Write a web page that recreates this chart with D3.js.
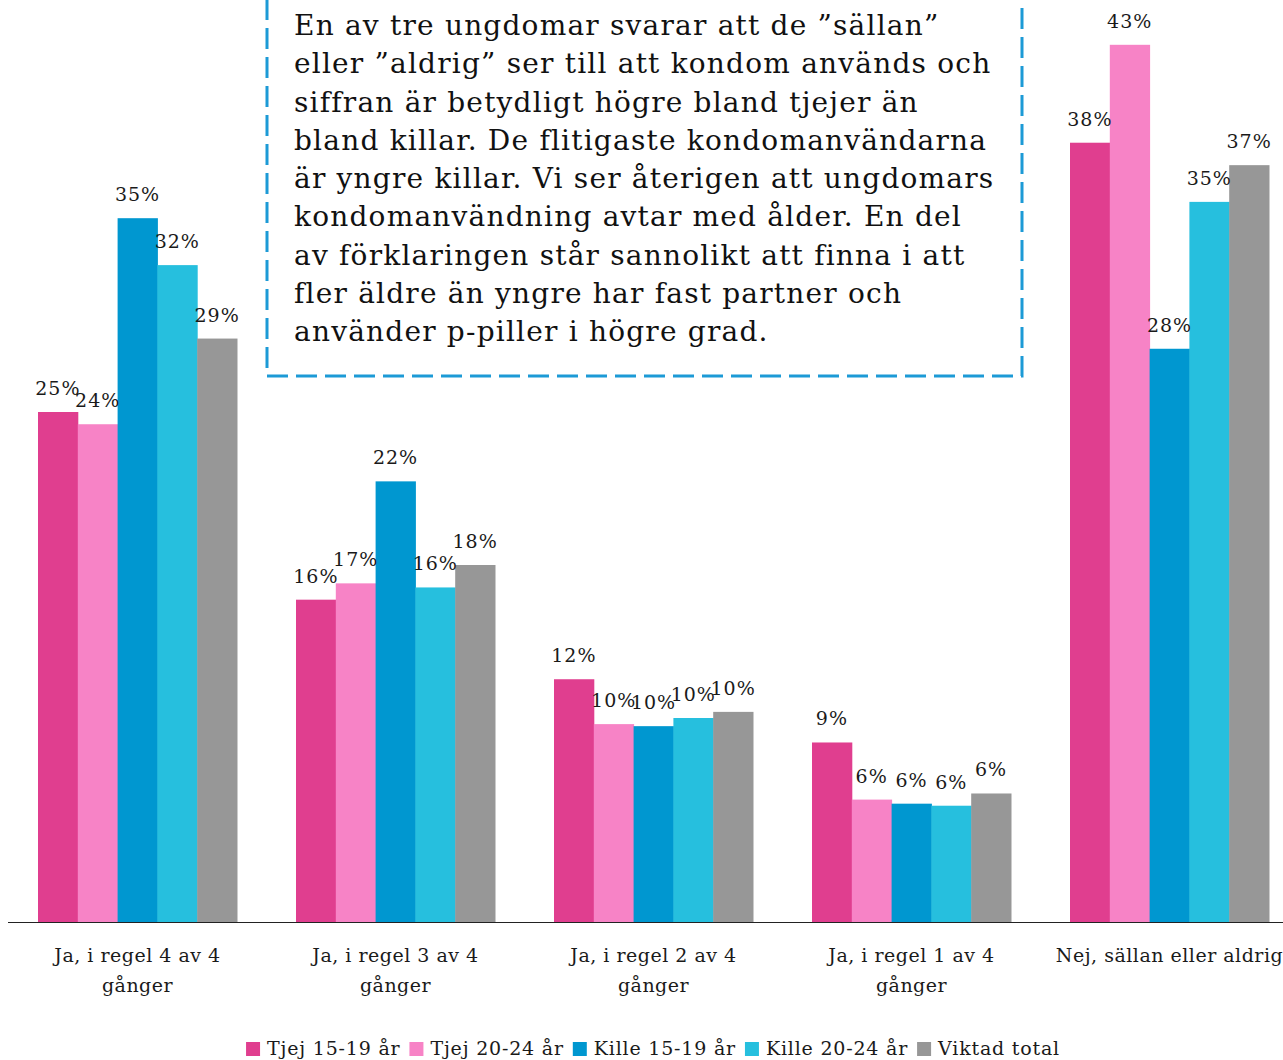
<!DOCTYPE html>
<html>
<head>
<meta charset="utf-8">
<script src="https://cdn.jsdelivr.net/npm/d3@7.9.0/dist/d3.min.js"></script>
<style>
  body { margin: 0; background: #fff; }
  svg { display: block; font-family: "DejaVu Serif", serif; }
</style>
</head>
<body>
<svg id="chart" width="1283" height="1060"></svg>
<script>
// categories + series (percent)
const categories = [
  "Ja, i regel 4 av 4 gånger",
  "Ja, i regel 3 av 4 gånger",
  "Ja, i regel 2 av 4 gånger",
  "Ja, i regel 1 av 4 gånger",
  "Nej, sällan eller aldrig"
];
const categoryLines = [
  ["Ja, i regel 4 av 4", "gånger"],
  ["Ja, i regel 3 av 4", "gånger"],
  ["Ja, i regel 2 av 4", "gånger"],
  ["Ja, i regel 1 av 4", "gånger"],
  ["Nej, sällan eller aldrig"]
];
const seriesNames = ["Tjej 15-19 år", "Tjej 20-24 år", "Kille 15-19 år", "Kille 20-24 år", "Viktad total"];
const seriesColors = ["#e03e8f", "#f783c6", "#0097d0", "#26bfde", "#979797"];
const tjej1519 = [25.0, 15.8, 11.9, 8.8, 38.2];
const tjej2024 = [24.4, 16.6, 9.7, 6.0, 43.0];
const kille1519 = [34.5, 21.6, 9.6, 5.8, 28.1];
const kille2024 = [32.2, 16.4, 10.0, 5.7, 35.3];
const viktad = [28.6, 17.5, 10.3, 6.3, 37.1];
const seriesValues = [tjej1519, tjej2024, kille1519, kille2024, viktad];

const noteLines = [
  "En av tre ungdomar svarar att de ”sällan”",
  "eller ”aldrig” ser till att kondom används och",
  "siffran är betydligt högre bland tjejer än",
  "bland killar. De flitigaste kondomanvändarna",
  "är yngre killar. Vi ser återigen att ungdomars",
  "kondomanvändning avtar med ålder. En del",
  "av förklaringen står sannolikt att finna i att",
  "fler äldre än yngre har fast partner och",
  "använder p-piller i högre grad."
];

const svg = d3.select("#chart");

const y = d3.scaleLinear().domain([0, 45]).range([922, 4]);
const x0 = d3.scaleBand().domain(categories).range([8.5, 1298.5]).padding(0);
const x1 = d3.scaleBand().domain(seriesNames).range([29.5, 228.5]).padding(0);

// bars
const groups = svg.selectAll("g.grp")
  .data(categories)
  .join("g")
  .attr("class", "grp")
  .attr("transform", d => `translate(${x0(d)},0)`);

groups.each(function(cat, ci) {
  const g = d3.select(this);
  const rows = seriesNames.map((s, si) => ({ s, si, v: seriesValues[si][ci] }));
  g.selectAll("rect")
    .data(rows)
    .join("rect")
    .attr("x", d => x1(d.s))
    .attr("y", d => y(d.v))
    .attr("width", x1.bandwidth() + 0.5)
    .attr("height", d => y(0) - y(d.v))
    .attr("fill", d => seriesColors[d.si]);
  g.selectAll("text.val")
    .data(rows)
    .join("text")
    .attr("class", "val")
    .attr("x", d => x1(d.s) + x1.bandwidth() / 2)
    .attr("y", d => y(d.v) - 17)
    .attr("text-anchor", "middle")
    .attr("font-size", 19)
    .attr("letter-spacing", 1)
    .attr("fill", "#1a1a1a")
    .text(d => Math.round(d.v) + "%");
});

// x axis line
svg.append("line")
  .attr("x1", 8).attr("x2", 1283)
  .attr("y1", y(0) + 0.5).attr("y2", y(0) + 0.5)
  .attr("stroke", "#222").attr("stroke-width", 1.2);

// category labels
categories.forEach((c, i) => {
  const t = svg.append("text")
    .attr("text-anchor", "middle")
    .attr("font-size", 19)
    .attr("letter-spacing", 0.5)
    .attr("fill", "#1a1a1a");
  categoryLines[i].forEach((ln, k) => {
    t.append("tspan")
      .attr("x", x0(c) + x0.bandwidth() / 2)
      .attr("y", 962 + k * 30)
      .text(ln);
  });
});

// legend
const legend = svg.append("g");
let lx = 0;
seriesNames.forEach((s, i) => {
  const item = legend.append("g").attr("transform", `translate(${lx},0)`);
  item.append("rect").attr("x", 0).attr("y", -13).attr("width", 14).attr("height", 14)
    .attr("fill", seriesColors[i]);
  const t = item.append("text").attr("x", 21).attr("y", 0)
    .attr("font-size", 19).attr("letter-spacing", 0.8)
    .attr("fill", "#1a1a1a").text(s);
  lx += 21 + t.node().getComputedTextLength() + 9;
});
const legendW = lx - 9;
legend.attr("transform", `translate(${653 - legendW / 2},1055)`);

// annotation box
svg.append("rect")
  .attr("x", 267).attr("y", -20)
  .attr("width", 755).attr("height", 396)
  .attr("fill", "#fff")
  .attr("stroke", "#1c9ad6").attr("stroke-width", 3)
  .attr("stroke-dasharray", "21,8");

const note = svg.append("text").attr("font-size", 28).attr("letter-spacing", 1.2).attr("fill", "#111");
noteLines.forEach((ln, k) => {
  note.append("tspan").attr("x", 294).attr("y", 35 + k * 38.25).text(ln);
});
</script>
</body>
</html>
